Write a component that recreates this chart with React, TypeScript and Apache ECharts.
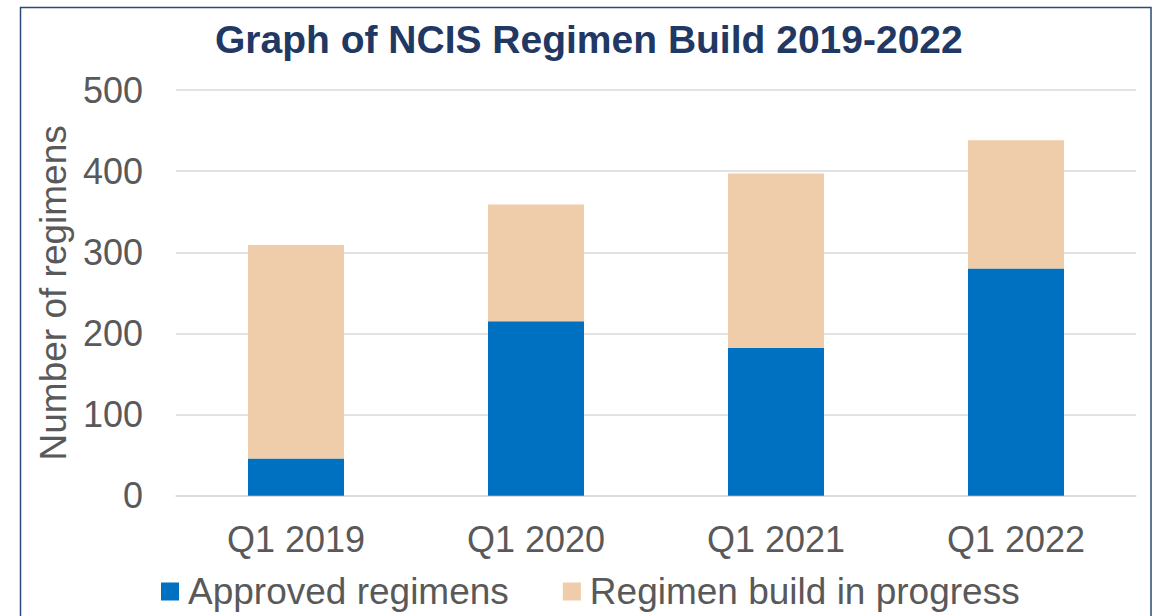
import React, { useEffect, useRef } from "react";
import * as echarts from "echarts";

const categories = ["Q1 2019", "Q1 2020", "Q1 2021", "Q1 2022"];
const approved = [46, 215, 182, 280];
const inProgress = [263, 144, 215, 158];
const seriesNames = ["Approved regimens", "Regimen build in progress"];
const titleText = "Graph of NCIS Regimen Build 2019-2022";
const yAxisName = "Number of regimens";

const FONT = "'Liberation Sans', Arial, sans-serif";

export default function App() {
  const ref = useRef<HTMLDivElement>(null);
  useEffect(() => {
    if (!ref.current) return;
    const chart = echarts.init(ref.current, undefined, { renderer: "svg" });
    chart.setOption({
      animation: false,
      backgroundColor: "#ffffff",
      textStyle: { fontFamily: FONT },
      title: {
        text: titleText,
        left: 215,
        top: 20,
        padding: 0,
        textStyle: { fontFamily: FONT, fontSize: 39, fontWeight: "bold", color: "#1F3864" },
      },
      graphic: [
        {
          type: "rect",
          shape: { x: 20.5, y: 7.5, width: 1130.5, height: 640 },
          style: { fill: "none", stroke: "#2B4A78", lineWidth: 1.5 },
          silent: true,
        },
      ],
      legend: {
        left: 161,
        top: 573,
        itemWidth: 18,
        itemHeight: 18,
        itemGap: 54,
        padding: 0,
        icon: "rect",
        textStyle: { fontFamily: FONT, fontSize: 37, color: "#595959", padding: [0, 0, 0, 4] },
        data: seriesNames,
      },
      grid: { left: 176, right: 21, top: 90, bottom: 120.3, containLabel: false },
      xAxis: {
        type: "category",
        data: categories,
        axisTick: { show: false },
        axisLine: { lineStyle: { color: "#D9D9D9", width: 1.5 } },
        axisLabel: { fontFamily: FONT, fontSize: 36, color: "#595959", margin: 26 },
      },
      yAxis: {
        type: "value",
        min: 0,
        max: 500,
        interval: 100,
        name: yAxisName,
        nameLocation: "middle",
        nameGap: 95,
        nameTextStyle: { fontFamily: FONT, fontSize: 37, color: "#595959" },
        axisLine: { show: false },
        axisTick: { show: false },
        splitLine: { lineStyle: { color: "#D9D9D9", width: 1.5 } },
        axisLabel: { fontFamily: FONT, fontSize: 36, color: "#595959", margin: 33 },
      },
      series: [
        {
          name: seriesNames[0],
          type: "bar",
          stack: "total",
          data: approved,
          barWidth: "40%",
          itemStyle: { color: "#0070C0" },
        },
        {
          name: seriesNames[1],
          type: "bar",
          stack: "total",
          data: inProgress,
          barWidth: "40%",
          itemStyle: { color: "#EFCDAA" },
        },
      ],
    });
    return () => chart.dispose();
  }, []);
  return (
    <div
      ref={ref}
      style={{ position: "fixed", left: 0, top: 0, width: 1157, height: 616, background: "#fff" }}
    />
  );
}
